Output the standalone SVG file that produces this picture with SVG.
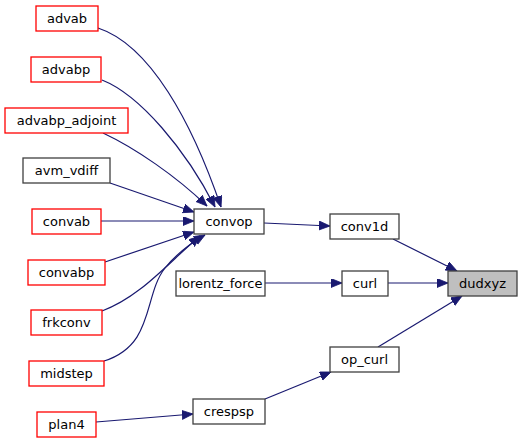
<svg xmlns="http://www.w3.org/2000/svg" width="523" height="443" viewBox="0 0 523 443">
<style>
.n rect{fill:#ffffff;stroke:#404040;stroke-width:1.3}
.r rect{stroke:#ff0000}
.g rect{fill:#bfbfbf}
text{font-family:"DejaVu Sans",sans-serif;font-size:13px;fill:#000;text-anchor:middle}
#edges path{fill:none;stroke:#191970;stroke-width:1.2;marker-end:url(#ah)}
</style>
<defs>
<marker id="ah" markerUnits="userSpaceOnUse" markerWidth="12" markerHeight="10" refX="11" refY="4.5" orient="auto">
<polygon points="0,0 11,4.5 0,9" fill="#191970" stroke="#191970" stroke-width="0.8"/>
</marker>
</defs>
<rect width="523" height="443" fill="#ffffff"/>
<g id="edges">
<path d="M98,28 C150,45 192,122 221,207"/>
<path d="M102,80 C140,95 186,150 215,207"/>
<path d="M103,133 C135,148 176,176 207,206"/>
<path d="M110,183 L194,212"/>
<path d="M101,221 L194,221"/>
<path d="M105,262 L194,232"/>
<path d="M102,311 C140,297 167,264 200,236"/>
<path d="M104,361 C155,345 143,296 165,268 C178,252 191,243 205,235"/>
<path d="M264,223 L330,226"/>
<path d="M393,239 L457,271"/>
<path d="M265,283 L342,283"/>
<path d="M388,283 L448,283"/>
<path d="M378,347 L462,296"/>
<path d="M96,422 L193,414"/>
<path d="M265,399 L331,372"/>
</g>
<g id="advab" class="n r"><rect x="36" y="6" width="62" height="25"/><text x="67" y="23">advab</text></g>
<g id="advabp" class="n r"><rect x="31" y="57" width="70" height="25"/><text x="66" y="74">advabp</text></g>
<g id="advabp_adjoint" class="n r"><rect x="5" y="108" width="123" height="25"/><text x="66.5" y="125">advabp_adjoint</text></g>
<g id="avm_vdiff" class="n"><rect x="23" y="158" width="87" height="25"/><text x="66.5" y="175">avm_vdiff</text></g>
<g id="convab" class="n r"><rect x="32" y="209" width="69" height="25"/><text x="66.5" y="226">convab</text></g>
<g id="convabp" class="n r"><rect x="28" y="260" width="77" height="25"/><text x="66.5" y="277">convabp</text></g>
<g id="frkconv" class="n r"><rect x="31" y="310" width="71" height="25"/><text x="66.5" y="327">frkconv</text></g>
<g id="midstep" class="n r"><rect x="29" y="361" width="75" height="25"/><text x="66.5" y="378">midstep</text></g>
<g id="plan4" class="n r"><rect x="37" y="412" width="59" height="25"/><text x="66.5" y="429">plan4</text></g>
<g id="convop" class="n"><rect x="194" y="209" width="70" height="25"/><text x="229" y="226">convop</text></g>
<g id="lorentz_force" class="n"><rect x="176" y="271" width="89" height="25"/><text x="220.5" y="288">lorentz_force</text></g>
<g id="crespsp" class="n"><rect x="193" y="399" width="72" height="25"/><text x="229" y="416">crespsp</text></g>
<g id="conv1d" class="n"><rect x="330" y="214" width="69" height="25"/><text x="364.5" y="231">conv1d</text></g>
<g id="curl" class="n"><rect x="342" y="271" width="46" height="25"/><text x="365" y="288">curl</text></g>
<g id="op_curl" class="n"><rect x="330" y="347" width="69" height="25"/><text x="364.5" y="364">op_curl</text></g>
<g id="dudxyz" class="n g"><rect x="448" y="271" width="69" height="25"/><text x="482.5" y="288">dudxyz</text></g>
</svg>
